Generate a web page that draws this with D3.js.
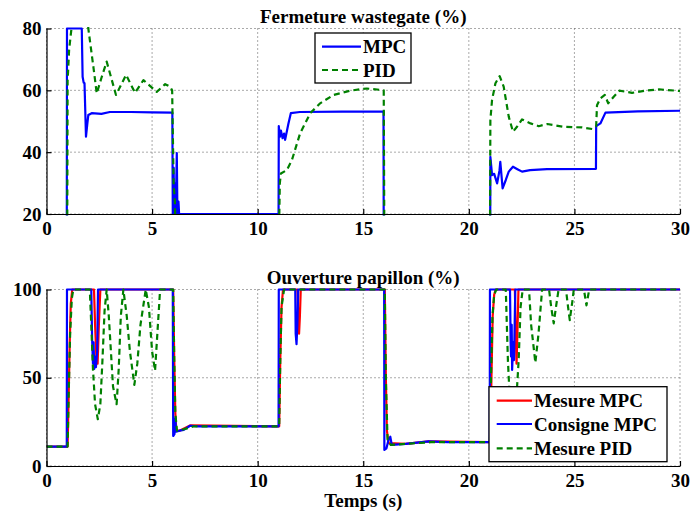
<!DOCTYPE html>
<html>
<head>
<meta charset="utf-8">
<script src="https://cdn.jsdelivr.net/npm/d3@7"></script>
<style>
  body { margin: 0; background: #fff; }
  svg text { font-family: "Liberation Serif", "Times New Roman", serif; font-weight: bold; }
</style>
</head>
<body>
<div id="chart"></div>
<script>
// ---- data: [time (s), value (%)] ----
// top panel: wastegate closing (values outside 20..80 are clipped by the axes)
var wgMPC = [[0,10],[0.96,10],[0.97,80],[1.67,80],[1.71,64.4],[1.76,62.5],[1.8,62.3],[1.87,45],[1.93,49],
  [1.98,52],[2.14,52.6],[2.6,52.4],[3,53],[4,53],[5,52.9],[5.96,52.8],[5.98,20],[6.02,35],[6.05,20],
  [6.08,30],[6.12,20],[6.17,39.7],[6.2,20],[6.25,24],[6.28,20],[10.99,20],[11.0,48.4],[11.05,45],
  [11.1,47],[11.18,44.5],[11.25,46],[11.3,44],[11.45,49],[11.57,52.6],[12,53],[14,53.1],[15.96,53.1],
  [15.97,10],[21.01,10],[21.02,38.5],[21.1,32.6],[21.2,33],[21.34,29.9],[21.45,34],[21.49,36.9],
  [21.6,28.3],[21.75,31],[21.89,33.7],[22.09,35.3],[22.3,34.5],[22.52,33.7],[22.9,34.2],[23.7,34.5],
  [26.02,34.6],[26.03,48.4],[26.23,49.3],[26.47,52.8],[28,53.2],[30,53.4]];

var wgPID = [[0,10],[0.98,10],[1.0,63],[1.07,73],[1.19,80.5],[1.3,90],[1.9,90],[1.98,80],[2.22,67.6],
  [2.38,59],[2.6,64],[2.85,69.3],[3.29,58.5],[3.77,65],[4.19,59.2],[4.59,63.3],[5.22,59.5],[5.62,62],
  [5.85,61.2],[5.95,60],[6.02,30],[6.08,24],[6.12,10],[11.0,10],[11.05,30],[11.1,33.1],[11.38,34.2],
  [11.62,37.4],[12.01,46.1],[12.49,52.6],[12.96,55.8],[13.59,58.5],[14.38,59.9],[15.17,60.6],
  [15.89,60.1],[15.97,60],[16.0,10],[21.0,10],[21.02,50.4],[21.1,56.9],[21.26,62.3],[21.46,64.6],
  [21.65,61.2],[21.89,51.5],[22.09,46.6],[22.28,48.2],[22.52,50.6],[22.92,49.3],[23.31,48.4],
  [23.71,49.1],[24.5,48.2],[25.36,48],[25.84,47.5],[26.03,48.4],[26.07,55.2],[26.23,57.4],
  [26.44,58.5],[26.6,55.8],[26.86,57.9],[27.13,59.9],[27.73,59.2],[28.36,59.9],[29,60.3],[30,59.8]];

// bottom panel: throttle opening
var thMesureMPC = [[0,11],[1.0,11],[1.05,40],[1.1,70],[1.15,92],[1.22,100],[2.25,100],[2.3,80],
  [2.36,62],[2.42,58],[2.48,80],[2.55,100],[6.0,100],[6.05,60],[6.1,30],[6.15,20],[6.3,20],[6.8,23],
  [11.02,22.5],[11.07,60],[11.13,90],[11.2,100],[11.88,100],[11.92,85],[11.96,75],[12.0,85],
  [12.04,100],[16.02,100],[16.07,50],[16.12,20],[16.2,13],[17,12.5],[18.1,14],[21.02,13.5],
  [21.07,50],[21.13,85],[21.2,97],[21.27,100],[22.18,100],[22.22,75],[22.26,58],[22.3,75],
  [22.35,100],[30,100]];

var thConsigneMPC = [[0,11],[0.96,11],[0.97,100],[2.12,100],[2.16,72],[2.2,58],[2.23,70],[2.26,55],
  [2.3,62],[2.34,56],[2.4,65],[2.44,100],[5.98,100],[6.0,17],[6.06,18],[6.1,27],[6.14,19.5],[6.3,20],
  [6.5,20.5],[6.8,22.8],[7.2,22.5],[10.99,22.5],[11.0,100],[11.78,100],[11.8,75],[11.84,69],
  [11.88,80],[11.92,100],[15.99,100],[16.0,9.1],[16.1,10],[16.2,15],[16.28,16.6],[16.35,12],
  [17,12.5],[18.1,14],[19,13.5],[20.99,13.5],[21.0,100],[21.95,100],[21.98,70],[22.0,62],
  [22.03,80],[22.05,54.4],[22.1,70],[22.14,60],[22.2,100],[30,100]];

var thMesurePID = [[0,11],[1.0,11],[1.05,40],[1.12,75],[1.2,95],[1.27,100],[2.05,100],[2.12,80],
  [2.2,55],[2.3,35],[2.43,26.5],[2.55,35],[2.65,60],[2.75,88],[2.85,100],[2.95,85],[3.05,65],
  [3.15,45],[3.32,35],[3.42,55],[3.52,85],[3.64,100],[3.8,85],[3.95,65],[4.16,46],[4.3,58],
  [4.45,80],[4.7,100],[4.85,90],[5.0,65],[5.14,54],[5.25,75],[5.38,100],[6.0,100],[6.05,60],
  [6.1,30],[6.18,20],[6.4,20.5],[7,22.5],[11.02,22.5],[11.07,60],[11.13,90],[11.25,100],
  [16.02,100],[16.07,50],[16.15,15],[16.3,12],[17,12.5],[18.2,13.5],[21.0,13.5],[21.05,50],
  [21.12,85],[21.2,97],[21.3,100],[21.75,100],[21.85,60],[21.95,35],[22.1,28],[22.25,38],
  [22.36,60],[22.45,90],[22.55,100],[22.85,100],[22.95,80],[23.15,58.5],[23.3,75],[23.47,100],
  [23.8,100],[23.9,90],[24.02,80.8],[24.15,92],[24.25,100],[24.6,100],[24.7,90],[24.78,82.7],
  [24.9,93],[24.97,100],[25.45,100],[25.57,91],[25.7,100],[30,100]];

var xTicks = [0, 5, 10, 15, 20, 25, 30];
var wgTicks = [20, 40, 60, 80];
var thTicks = [0, 50, 100];

var W = 691, H = 513;
var left = 46.5, right = 680;

var svg = d3.select("#chart").append("svg")
    .attr("width", W)
    .attr("height", H);

var x = d3.scaleLinear().domain([0, 30]).range([left, right]);

// draw one panel, returns its y scale
function drawPanel(id, top, bottom, yDomain, yTicks, title, series) {
    var y = d3.scaleLinear().domain(yDomain).range([bottom, top]);
    var g = svg.append("g").attr("class", id);

    // dotted grid
    g.selectAll(".vgrid").data(xTicks).enter().append("line")
        .attr("x1", function(d){ return x(d); }).attr("x2", function(d){ return x(d); })
        .attr("y1", top).attr("y2", bottom)
        .attr("stroke", "#555").attr("stroke-width", 1).attr("stroke-dasharray", "1,3");
    g.selectAll(".hgrid").data(yTicks).enter().append("line")
        .attr("x1", left).attr("x2", right)
        .attr("y1", function(d){ return y(d); }).attr("y2", function(d){ return y(d); })
        .attr("stroke", "#555").attr("stroke-width", 1).attr("stroke-dasharray", "1,3");

    // clip
    svg.append("clipPath").attr("id", "clip-" + id)
        .append("rect").attr("x", left).attr("y", top - 1.5)
        .attr("width", right - left).attr("height", bottom - top + 3);

    var line = d3.line()
        .x(function(d){ return x(d[0]); })
        .y(function(d){ return y(d[1]); });

    var lines = g.append("g").attr("clip-path", "url(#clip-" + id + ")");
    series.forEach(function(s) {
        lines.append("path")
            .datum(s.data)
            .attr("d", line)
            .attr("fill", "none")
            .attr("stroke", s.color)
            .attr("stroke-width", 2.2)
            .attr("stroke-linejoin", "round")
            .attr("stroke-dasharray", s.dash || null);
    });

    // axes (left and bottom only, ticks inside)
    var xAxis = d3.axisBottom(x).tickValues(xTicks).tickSizeInner(-5).tickSizeOuter(0).tickPadding(8);
    var yAxis = d3.axisLeft(y).tickValues(yTicks).tickSizeInner(-5).tickSizeOuter(0).tickPadding(5);

    var gx = g.append("g").attr("transform", "translate(0," + bottom + ")").call(xAxis);
    var gy = g.append("g").attr("transform", "translate(" + left + ",0)").call(yAxis);
    [gx, gy].forEach(function(a) {
        a.select(".domain").attr("stroke", "#000").attr("stroke-width", 1.2);
        a.selectAll(".tick line").attr("stroke", "#000").attr("stroke-width", 1.2);
        a.selectAll(".tick text")
            .attr("fill", "#000")
            .style("font-size", "19px")
            .style("font-family", "'Liberation Serif', serif")
            .style("font-weight", "bold");
    });

    g.append("text")
        .attr("x", (left + right) / 2)
        .attr("y", top - 6)
        .attr("text-anchor", "middle")
        .style("font-size", "19px")
        .text(title);

    return y;
}

drawPanel("wg", 28.5, 214, [20, 80], wgTicks, "Fermeture wastegate (%)", [
    { data: wgMPC, color: "#0000ff" },
    { data: wgPID, color: "#008000", dash: "6,4" }
]);

drawPanel("th", 289.5, 466, [0, 100], thTicks, "Ouverture papillon (%)", [
    { data: thMesureMPC, color: "#ff0000" },
    { data: thConsigneMPC, color: "#0000ff" },
    { data: thMesurePID, color: "#008000", dash: "6,4" }
]);

svg.append("text")
    .attr("x", (left + right) / 2)
    .attr("y", 507)
    .attr("text-anchor", "middle")
    .style("font-size", "19px")
    .text("Temps (s)");

// legends
function drawLegend(bx, by, bw, bh, items, rowY, lineX1, lineX2) {
    var lg = svg.append("g");
    lg.append("rect")
        .attr("x", bx).attr("y", by).attr("width", bw).attr("height", bh)
        .attr("fill", "#fff").attr("stroke", "#000").attr("stroke-width", 1.3);
    items.forEach(function(it, i) {
        var yy = rowY[i];
        lg.append("line")
            .attr("x1", lineX1).attr("x2", lineX2)
            .attr("y1", yy).attr("y2", yy)
            .attr("stroke", it.color).attr("stroke-width", 2.2)
            .attr("stroke-dasharray", it.dash || null);
        lg.append("text")
            .attr("x", lineX2 + 2).attr("y", yy + 6.5)
            .style("font-size", "19px")
            .text(it.label);
    });
}

drawLegend(315, 33, 96, 50, [
    { label: "MPC", color: "#0000ff" },
    { label: "PID", color: "#008000", dash: "6,4" }
], [46.7, 70], 322, 361);

drawLegend(489, 386.7, 178, 75, [
    { label: "Mesure MPC", color: "#ff0000" },
    { label: "Consigne MPC", color: "#0000ff" },
    { label: "Mesure PID", color: "#008000", dash: "6,4" }
], [400.7, 424, 448.3], 496.7, 532);
</script>
</body>
</html>
